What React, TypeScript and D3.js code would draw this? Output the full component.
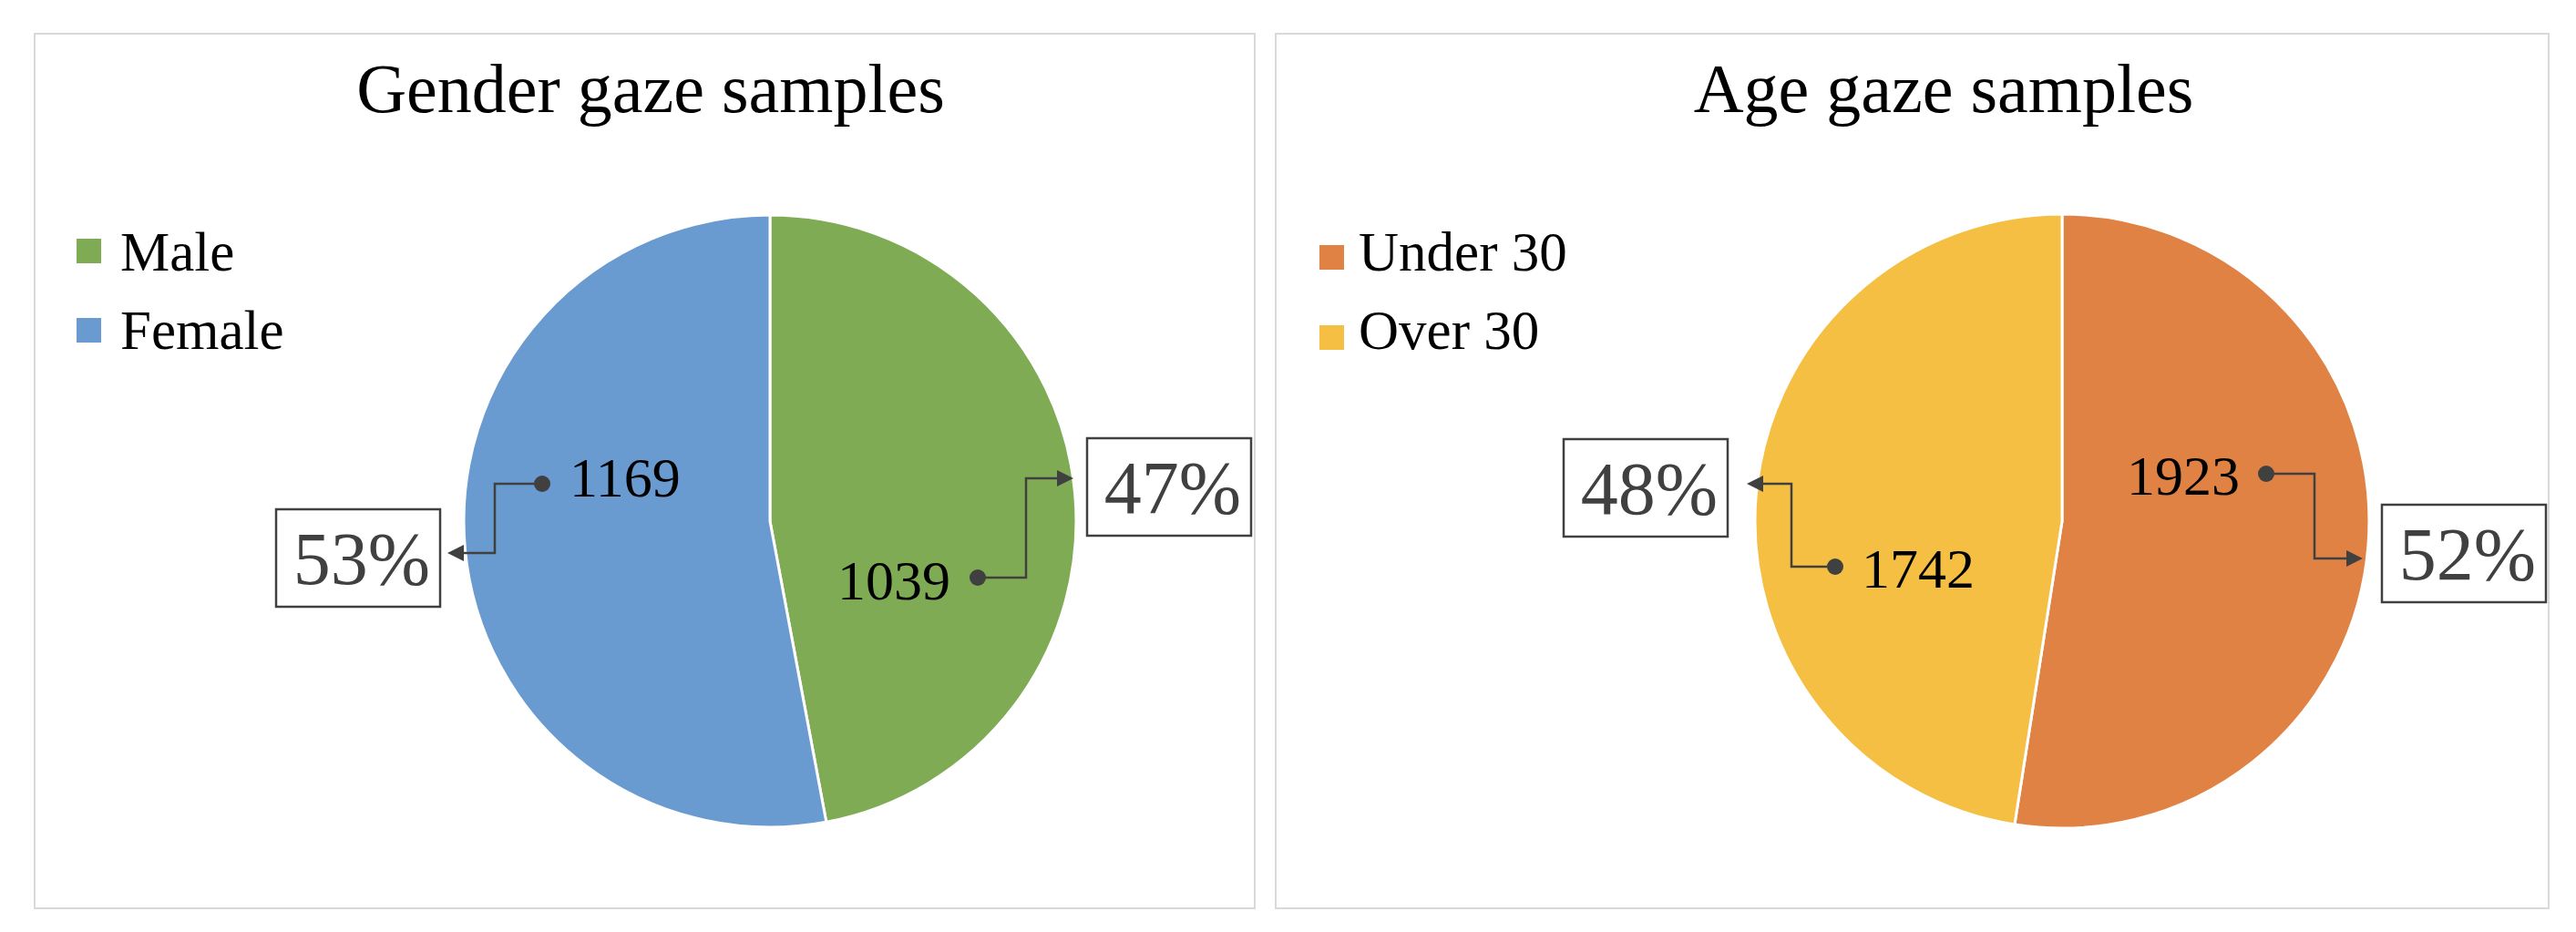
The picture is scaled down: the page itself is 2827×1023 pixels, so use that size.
import React from 'react';
import * as d3 from 'd3';

// ---- data ----
const genderCategories = ['Male', 'Female'];
const genderValues = [1039, 1169];
const genderColors = ['#7FAB55', '#6A9BD0'];
const ageCategories = ['Under 30', 'Over 30'];
const ageValues = [1923, 1742];
const ageColors = ['#E08243', '#F4BF42'];
const chartTitles = ['Gender gaze samples', 'Age gaze samples'];

// ---- layout (positions relative to pie centre) ----
type LabelLayout = {
  dot: [number, number];
  numAnchor: 'start' | 'end';
  numDx: number;
  numDy: number;
  elbowX: number;
  tipY: number;
  tipX: number;
  box: [number, number];
};

const panels = [
  {
    x0: 38, x1: 1377, y0: 37, y1: 997,
    cx: 845, cy: 572, r: 336,
    titleX: 714, titleY: 123,
    sqX: 84, sqY: [262, 349], textX: 132, baseY: [297, 383],
    labels: [
      { dot: [228, 62], numAnchor: 'end', numDx: -30, numDy: 24, elbowX: 281, tipY: -47, tipX: 333, box: [348, -91] },
      { dot: [-250, -41], numAnchor: 'start', numDx: 30, numDy: 14, elbowX: -302, tipY: 35, tipX: -354, box: [-542, -13] },
    ] as LabelLayout[],
  },
  {
    x0: 1400, x1: 2797, y0: 37, y1: 997,
    cx: 2263, cy: 572, r: 337,
    titleX: 2133, titleY: 123,
    sqX: 1448, sqY: [269, 357], textX: 1491, baseY: [297, 383],
    labels: [
      { dot: [224, -52], numAnchor: 'end', numDx: -29, numDy: 23, elbowX: 277, tipY: 41, tipX: 330, box: [351, -18] },
      { dot: [-249, 50], numAnchor: 'start', numDx: 29, numDy: 23, elbowX: -297, tipY: -41, tipX: -346, box: [-547, -90] },
    ] as LabelLayout[],
  },
];

const FONT = '"Liberation Serif", "Times New Roman", serif';
const DARK = '#404040';
const BOX_W = 180;
const BOX_H = 107;

function PiePanel({ idx, categories, values, colors }: { idx: number; categories: string[]; values: number[]; colors: string[] }) {
  const p = panels[idx];
  const total = d3.sum(values);
  const pie = d3.pie<number>().sort(null).value((d) => d).startAngle(0).endAngle(2 * Math.PI);
  const arcs = pie(values);
  const arc = d3.arc<d3.PieArcDatum<number>>().innerRadius(0).outerRadius(p.r);
  const color = d3.scaleOrdinal<string, string>().domain(categories).range(colors);
  const pct = d3.format('.0%');

  return (
    <g>
      <rect x={p.x0} y={p.y0} width={p.x1 - p.x0} height={p.y1 - p.y0} fill="#fff" stroke="#d9d9d9" strokeWidth={2} />
      <text x={p.titleX} y={p.titleY} textAnchor="middle" fontFamily={FONT} fontSize={76} fill="#000">
        {chartTitles[idx]}
      </text>
      {categories.map((c, i) => (
        <g key={c}>
          <rect x={p.sqX} y={p.sqY[i]} width={27} height={27} fill={color(c)} />
          <text x={p.textX} y={p.baseY[i]} fontFamily={FONT} fontSize={61} fill="#000">{c}</text>
        </g>
      ))}
      <g transform={`translate(${p.cx},${p.cy})`}>
        {arcs.map((a, i) => (
          <path key={i} d={arc(a) || ''} fill={color(categories[i])} stroke="#fff" strokeWidth={3} strokeLinejoin="round" />
        ))}
        {arcs.map((a, i) => {
          const L = p.labels[i];
          const [dx, dy] = L.dot;
          const dir = Math.sign(L.tipX - L.elbowX);
          const head = 18;
          const half = 9;
          const baseX = L.tipX - dir * head;
          const line = d3.line()([
            [dx, dy],
            [L.elbowX, dy],
            [L.elbowX, L.tipY],
            [baseX, L.tipY],
          ]);
          const tri = `M${L.tipX},${L.tipY}L${baseX},${L.tipY - half}L${baseX},${L.tipY + half}Z`;
          return (
            <g key={'l' + i}>
              <path d={line || ''} fill="none" stroke={DARK} strokeWidth={2.5} />
              <path d={tri} fill={DARK} />
              <circle cx={dx} cy={dy} r={9} fill={DARK} />
              <text x={dx + L.numDx} y={dy + L.numDy} textAnchor={L.numAnchor} fontFamily={FONT} fontSize={62} fill="#000">
                {values[i]}
              </text>
              <rect x={L.box[0]} y={L.box[1]} width={BOX_W} height={BOX_H} fill="#fff" stroke={DARK} strokeWidth={2.5} />
              <text x={L.box[0] + BOX_W / 2 + 4} y={L.box[1] + 82} textAnchor="middle" fontFamily={FONT} fontSize={82} fill={DARK}>
                {pct(values[i] / total)}
              </text>
            </g>
          );
        })}
      </g>
    </g>
  );
}

export default function App() {
  return (
    <svg width={2827} height={1023} style={{ position: 'absolute', left: 0, top: 0, background: '#fff' }}>
      <rect x={0} y={0} width={2827} height={1023} fill="#fff" />
      <PiePanel idx={0} categories={genderCategories} values={genderValues} colors={genderColors} />
      <PiePanel idx={1} categories={ageCategories} values={ageValues} colors={ageColors} />
    </svg>
  );
}
